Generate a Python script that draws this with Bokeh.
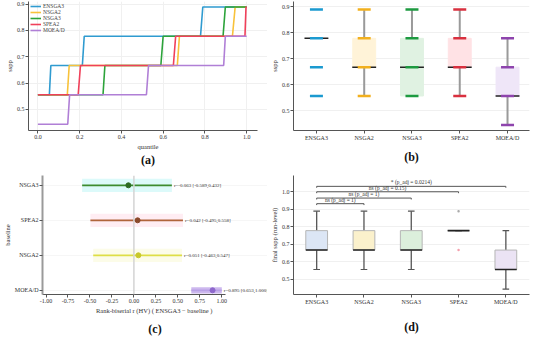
from bokeh.plotting import figure
from bokeh.models import (Range1d, FixedTicker, PrintfTickFormatter, LinearAxis,
                          ColumnDataSource, LabelSet, Span)
from bokeh.layouts import column, row
from bokeh.embed import file_html
from bokeh.resources import INLINE

FONT = "Liberation Serif"

# ---------------- data ----------------
algos = ["ENSGA3", "NSGA2", "NSGA3", "SPEA2", "MOEA/D"]

# (a) quantile curves
a_q_ensga3 = [0.0, 0.055, 0.062, 0.213, 0.222, 0.779, 0.790, 1.0]
a_v_ensga3 = [0.556, 0.556, 0.667, 0.667, 0.778, 0.778, 0.889, 0.889]
a_q_nsga2 = [0.0, 0.141, 0.150, 0.668, 0.678, 0.932, 0.945, 1.0]
a_v_nsga2 = [0.556, 0.556, 0.667, 0.667, 0.778, 0.778, 0.889, 0.889]
a_q_nsga3 = [0.0, 0.312, 0.321, 0.589, 0.600, 0.887, 0.898, 1.0]
a_v_nsga3 = [0.556, 0.556, 0.667, 0.667, 0.778, 0.778, 0.889, 0.889]
a_q_spea2 = [0.0, 0.193, 0.204, 0.649, 0.660, 0.992, 0.997, 1.0]
a_v_spea2 = [0.556, 0.556, 0.667, 0.667, 0.778, 0.778, 0.889, 0.889]
a_q_moead = [0.0, 0.143, 0.152, 0.520, 0.530, 0.890, 0.898, 1.0]
a_v_moead = [0.444, 0.444, 0.556, 0.556, 0.667, 0.667, 0.778, 0.778]
a_x_ticks = [0.0, 0.2, 0.4, 0.6, 0.8, 1.0]
a_y_ticks = [0.5, 0.6, 0.7, 0.8, 0.9]

# (b) box plot of sspp
b_q1 = [0.778, 0.667, 0.556, 0.667, 0.556]
b_med = [0.778, 0.667, 0.667, 0.667, 0.556]
b_q3 = [0.778, 0.778, 0.778, 0.778, 0.667]
b_lo = [0.778, 0.556, 0.556, 0.556, 0.444]
b_hi = [0.778, 0.889, 0.889, 0.889, 0.778]
b_pts = [[0.556, 0.667, 0.778, 0.889],
         [0.556, 0.667, 0.778, 0.889],
         [0.556, 0.667, 0.778, 0.889],
         [0.556, 0.667, 0.778, 0.889],
         [0.444, 0.556, 0.667, 0.778]]

# (c) forest plot
c_names = ["NSGA3", "SPEA2", "NSGA2", "MOEA/D"]
c_r = [-0.063, 0.042, 0.051, 0.895]
c_lo = [-0.589, -0.495, -0.463, 0.653]
c_hi = [0.432, 0.558, 0.547, 1.000]
c_x_ticks = [-1.0, -0.75, -0.5, -0.25, 0.0, 0.25, 0.5, 0.75, 1.0]

# (d) final sspp box plot
d_q1 = [0.667, 0.667, 0.667, 0.778, 0.556]
d_med = [0.667, 0.667, 0.667, 0.778, 0.556]
d_q3 = [0.778, 0.778, 0.778, 0.778, 0.667]
d_lo = [0.556, 0.556, 0.556, 0.778, 0.444]
d_hi = [0.889, 0.889, 0.889, 0.778, 0.778]
d_out_x = ["SPEA2", "SPEA2"]
d_out_y = [0.889, 0.667]
d_pair_to = ["NSGA2", "NSGA3", "SPEA2", "MOEA/D"]
d_pair_h = [0.932, 0.964, 1.0, 1.031]
d_pair_txt = ["ns (p_adj = 1)", "ns (p_adj = 1)", "ns (p_adj = 0.15)", "* (p_adj = 0.0214)"]
d_y_ticks = [0.5, 0.6, 0.7, 0.8, 0.9, 1.0]

# ---------------- styles ----------------
col_a = ["#2f9bd0", "#f8c23a", "#2ca33a", "#f0405a", "#b07fd6"]
col_b = ["#1b9ad0", "#f2b01e", "#1d9a40", "#d9303f", "#8e44ad"]
fill_b = ["#ffffff", "#fff3d8", "#e0f2e2", "#ffe2e5", "#efe6f8"]
c_line = ["#3d8b2f", "#b0643a", "#dede45", "#b9a0e6"]
c_dot = ["#2d6a22", "#8b4a2b", "#c8c82a", "#8e68cc"]
c_band = ["#dcfafa", "#ffedf3", "#fcfce8", "#cdb8ee"]
c_band_half = [0.19, 0.19, 0.19, 0.09]
fill_d = ["#dce6f5", "#fbf1cc", "#dcefdc", "#fde3e6", "#ebe3f4"]


def style(p, tick_size="6px"):
    p.outline_line_color = None
    for ax in p.axis:
        ax.axis_line_color = "#555555"
        ax.major_tick_line_color = "#555555"
        ax.minor_tick_line_color = None
        ax.major_tick_out = 3
        ax.major_tick_in = 0
        ax.major_label_text_font = FONT
        ax.major_label_text_font_size = tick_size
        ax.major_label_text_color = "#333333"
        ax.major_label_standoff = 1
        ax.axis_label_text_font = FONT
        ax.axis_label_text_font_size = "6.5px"
        ax.axis_label_text_font_style = "normal"
        ax.axis_label_text_color = "#333333"
        ax.axis_label_standoff = 1
    for g in p.grid:
        g.grid_line_color = "#f0f0f0"


def panel_label(p, txt, standoff):
    ax = LinearAxis(ticker=FixedTicker(ticks=[]), axis_label=txt, axis_line_color=None,
                    major_tick_line_color=None, minor_tick_line_color=None,
                    major_tick_out=0, major_tick_in=0, major_label_text_font_size="1px",
                    major_label_standoff=0, axis_label_standoff=standoff,
                    axis_label_text_font=FONT, axis_label_text_font_size="12px",
                    axis_label_text_font_style="bold", axis_label_text_color="#111111")
    p.add_layout(ax, "below")


common = dict(output_backend="svg", toolbar_location=None)

# ---------------- (a) ----------------
pa = figure(width=267, height=169, x_range=Range1d(-0.045, 1.10), y_range=Range1d(0.42, 0.91),
            min_border_left=28, min_border_right=0, min_border_top=0, min_border_bottom=10,
            **common)
curves = [(a_q_ensga3, a_v_ensga3), (a_q_nsga2, a_v_nsga2), (a_q_nsga3, a_v_nsga3),
          (a_q_spea2, a_v_spea2), (a_q_moead, a_v_moead)]
for (q, v), c, name in zip(curves, col_a, algos):
    pa.line(q, v, line_color=c, line_width=1.6, legend_label=name)
pa.xaxis.ticker = FixedTicker(ticks=a_x_ticks)
pa.yaxis.ticker = FixedTicker(ticks=a_y_ticks)
pa.xaxis.formatter = PrintfTickFormatter(format="%.1f")
pa.yaxis.formatter = PrintfTickFormatter(format="%.1f")
pa.xaxis.bounds = (-0.045, 1.05)
pa.xaxis.axis_label = "quantile"
pa.yaxis.axis_label = "sspp"
style(pa)
pa.xgrid.bounds = (-0.045, 1.05)
pa.legend.location = "top_left"
pa.legend.margin = 1
pa.legend.padding = 1
pa.legend.spacing = 0
pa.legend.glyph_height = 6
pa.legend.glyph_width = 11
pa.legend.label_height = 6
pa.legend.label_text_font = FONT
pa.legend.label_text_font_size = "5.5px"
pa.legend.label_standoff = 2
pa.legend.background_fill_alpha = 0
pa.legend.border_line_alpha = 0
panel_label(pa, "(a)", 0)

# ---------------- (b) ----------------
xs = list(range(len(algos)))
pb = figure(width=267, height=169, x_range=Range1d(-0.48, 4.46), y_range=Range1d(0.423, 0.92),
            min_border_left=22, min_border_right=5, min_border_top=1, min_border_bottom=10,
            **common)
pb.segment(xs, b_lo, xs, b_q1, line_color="#9a9a9a", line_width=2)
pb.segment(xs, b_q3, xs, b_hi, line_color="#9a9a9a", line_width=2)
pb.vbar(x=xs, width=0.48, bottom=b_q1, top=b_q3, fill_color=fill_b, line_color=fill_b,
        line_width=1)
pb.rect(x=xs, y=b_med, width=0.5, height=1.5, height_units="screen", fill_color="#222222",
        line_color=None)
for i, (pts, c) in enumerate(zip(b_pts, col_b)):
    pb.scatter(x=[xs[i]] * len(pts), y=pts, marker="dash", size=13, line_width=2.5,
               line_color=c, fill_color=c)
pb.xaxis.ticker = FixedTicker(ticks=xs)
pb.xaxis.major_label_overrides = {i: n for i, n in zip(xs, algos)}
pb.yaxis.ticker = FixedTicker(ticks=a_y_ticks)
pb.yaxis.formatter = PrintfTickFormatter(format="%.1f")
pb.yaxis.axis_label = "sspp"
style(pb)
pb.xgrid.grid_line_color = None
panel_label(pb, "(b)", 6)

# ---------------- (c) ----------------
c_pos = list(range(len(c_names)))[::-1]
pc = figure(width=267, height=169, x_range=Range1d(-1.04, 1.52), y_range=Range1d(-0.12, 3.28),
            min_border_left=34, min_border_right=0, min_border_top=6, min_border_bottom=10,
            **common)
pc.quad(left=c_lo, right=c_hi, bottom=[p - h for p, h in zip(c_pos, c_band_half)],
        top=[p + h for p, h in zip(c_pos, c_band_half)], fill_color=c_band, line_color=None)
pc.add_layout(Span(location=0, dimension="height", line_color="#d4d4d4", line_width=1.5))
pc.segment(c_lo, c_pos, c_hi, c_pos, line_color=c_line, line_width=1.8)
pc.scatter(c_r, c_pos, size=5, fill_color=c_dot, line_color=c_dot)
c_txt = ["r={:.3f} [{:.3f},{:.3f}]".format(r, lo, hi) for r, lo, hi in zip(c_r, c_lo, c_hi)]
src_c = ColumnDataSource(dict(x=c_hi, y=c_pos, t=c_txt))
pc.add_layout(LabelSet(x="x", y="y", text="t", source=src_c, x_offset=2, text_baseline="middle",
                       text_font=FONT, text_font_size="5px", text_color="#333333"))
pc.xaxis.ticker = FixedTicker(ticks=c_x_ticks)
pc.xaxis.formatter = PrintfTickFormatter(format="%.2f")
pc.xaxis.bounds = (-1.04, 1.04)
pc.yaxis.ticker = FixedTicker(ticks=c_pos)
pc.yaxis.major_label_overrides = {p: n for p, n in zip(c_pos, c_names)}
pc.xaxis.axis_label = "Rank-biserial r (HV)  ( ENSGA3 \u2212 baseline )"
pc.yaxis.axis_label = "baseline"
style(pc)
pc.yaxis.axis_line_width = 2
pc.yaxis.axis_line_color = "#9a9a9a"
pc.xgrid.grid_line_color = None
pc.ygrid.grid_line_color = "#f6f6f6"
panel_label(pc, "(c)", 5)

# ---------------- (d) ----------------
pd_ = figure(width=267, height=169, x_range=Range1d(-0.49, 4.5), y_range=Range1d(0.413, 1.093),
             min_border_left=24, min_border_right=5, min_border_top=6, min_border_bottom=10,
             **common)
pd_.segment(xs, d_lo, xs, d_q1, line_color="#555555", line_width=1.3)
pd_.segment(xs, d_q3, xs, d_hi, line_color="#555555", line_width=1.3)
pd_.rect(x=xs, y=d_lo, width=0.14, height=1.2, height_units="screen", fill_color="#555555",
         line_color=None)
pd_.rect(x=xs, y=d_hi, width=0.14, height=1.2, height_units="screen", fill_color="#555555",
         line_color=None)
pd_.vbar(x=xs, width=0.46, bottom=d_q1, top=d_q3, fill_color=fill_d, line_color="#b5b5b5",
         line_width=1)
pd_.rect(x=xs, y=d_med, width=0.46, height=1.6, height_units="screen", fill_color="#222222",
         line_color=None)
out_idx = [algos.index(n) for n in d_out_x]
pd_.scatter(out_idx, d_out_y, size=2.5, fill_color=["#aaaaaa", "#f4a0ad"], line_color=None)
to_idx = [algos.index(n) for n in d_pair_to]
pd_.segment([0] * len(to_idx), d_pair_h, to_idx, d_pair_h, line_color="#555555", line_width=1)
pd_.segment([0] * len(to_idx), d_pair_h, [0] * len(to_idx), [h - 0.008 for h in d_pair_h],
            line_color="#555555", line_width=1)
pd_.segment(to_idx, d_pair_h, to_idx, [h - 0.008 for h in d_pair_h],
            line_color="#555555", line_width=1)
src_d = ColumnDataSource(dict(x=[(0 + j) / 2 for j in to_idx], y=d_pair_h, t=d_pair_txt))
pd_.add_layout(LabelSet(x="x", y="y", text="t", source=src_d, y_offset=1, text_align="center",
                        text_baseline="bottom", text_font=FONT, text_font_size="5.5px",
                        text_color="#333333"))
pd_.xaxis.ticker = FixedTicker(ticks=xs)
pd_.xaxis.major_label_overrides = {i: n for i, n in zip(xs, algos)}
pd_.yaxis.ticker = FixedTicker(ticks=d_y_ticks)
pd_.yaxis.formatter = PrintfTickFormatter(format="%.1f")
pd_.yaxis.axis_label = "final sspp (run-level)"
style(pd_)
pd_.xgrid.grid_line_color = None
panel_label(pd_, "(d)", 12)

layout = column(row(pa, pb), row(pc, pd_))
open("out.html", "w").write(file_html(layout, INLINE))
